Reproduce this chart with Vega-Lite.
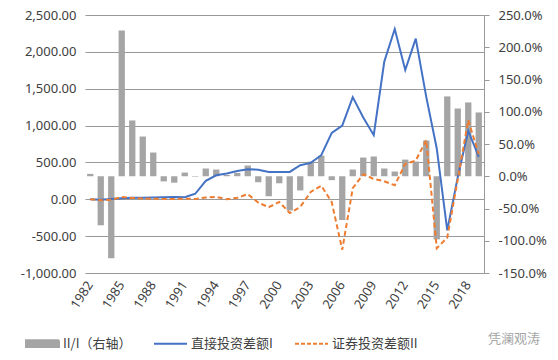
{
  "$schema": "https://vega.github.io/schema/vega-lite/v6.json",
  "width": 399,
  "height": 258,
  "autosize": {"type": "none"},
  "padding": {"left": 85, "top": 15, "right": 74, "bottom": 87},
  "background": "white",
  "config": {
    "view": {"stroke": null},
    "locale": {"number": {"decimal": ".", "thousands": ",", "grouping": [3], "currency": ["$", ""], "minus": "-"}},
    "axis": {"labelFont": "Noto Sans", "labelFontSize": 13, "labelColor": "#404040"}
  },
  "title": {
    "text": "凭澜观涛",
    "orient": "bottom",
    "anchor": "end",
    "frame": "group",
    "color": "#a6a6a6",
    "fontSize": 13,
    "font": "Noto Sans CJK SC",
    "fontWeight": "normal",
    "dx": 56,
    "dy": -28,
    "offset": 10
  },
  "data": {
    "values": [
      {"year": 1982, "ratio": 0.037, "fdi": 0, "port": 0},
      {"year": 1983, "ratio": -0.76, "fdi": -5, "port": -14},
      {"year": 1984, "ratio": -1.27, "fdi": 5, "port": -5},
      {"year": 1985, "ratio": 2.26, "fdi": 15, "port": 30},
      {"year": 1986, "ratio": 0.865, "fdi": 20, "port": 18},
      {"year": 1987, "ratio": 0.616, "fdi": 22, "port": 10},
      {"year": 1988, "ratio": 0.368, "fdi": 25, "port": 8},
      {"year": 1989, "ratio": -0.08, "fdi": 28, "port": 5},
      {"year": 1990, "ratio": -0.10, "fdi": 30, "port": 5},
      {"year": 1991, "ratio": 0.057, "fdi": 28, "port": 9},
      {"year": 1992, "ratio": -0.008, "fdi": 75, "port": 5},
      {"year": 1993, "ratio": 0.12, "fdi": 250, "port": 23},
      {"year": 1994, "ratio": 0.104, "fdi": 325, "port": 32},
      {"year": 1995, "ratio": 0.02, "fdi": 349, "port": 0},
      {"year": 1996, "ratio": 0.052, "fdi": 385, "port": 20},
      {"year": 1997, "ratio": 0.166, "fdi": 408, "port": 70},
      {"year": 1998, "ratio": -0.093, "fdi": 402, "port": -45},
      {"year": 1999, "ratio": -0.31, "fdi": 371, "port": -108},
      {"year": 2000, "ratio": -0.109, "fdi": 371, "port": -36},
      {"year": 2001, "ratio": -0.53, "fdi": 371, "port": -186},
      {"year": 2002, "ratio": -0.22, "fdi": 462, "port": -104},
      {"year": 2003, "ratio": 0.228, "fdi": 494, "port": 100},
      {"year": 2004, "ratio": 0.32, "fdi": 598, "port": 185},
      {"year": 2005, "ratio": -0.06, "fdi": 901, "port": -40},
      {"year": 2006, "ratio": -0.68, "fdi": 1001, "port": -684},
      {"year": 2007, "ratio": 0.104, "fdi": 1386, "port": 150},
      {"year": 2008, "ratio": 0.29, "fdi": 1110, "port": 340},
      {"year": 2009, "ratio": 0.306, "fdi": 870, "port": 275},
      {"year": 2010, "ratio": 0.12, "fdi": 1866, "port": 245},
      {"year": 2011, "ratio": 0.073, "fdi": 2310, "port": 190},
      {"year": 2012, "ratio": 0.258, "fdi": 1753, "port": 480},
      {"year": 2013, "ratio": 0.228, "fdi": 2180, "port": 525},
      {"year": 2014, "ratio": 0.554, "fdi": 1390, "port": 802},
      {"year": 2015, "ratio": -0.978, "fdi": 689, "port": -665},
      {"year": 2016, "ratio": 1.238, "fdi": -421, "port": -520},
      {"year": 2017, "ratio": 1.05, "fdi": 300, "port": 270},
      {"year": 2018, "ratio": 1.144, "fdi": 930, "port": 1073},
      {"year": 2019, "ratio": 0.989, "fdi": 575, "port": 610}
    ]
  },
  "encoding": {
    "x": {
      "field": "year",
      "type": "ordinal",
      "scale": {"paddingInner": 0.4, "paddingOuter": 0.2},
      "axis": {
        "title": null,
        "labelAngle": -57,
        "ticks": false,
        "domain": false,
        "grid": false,
        "labelPadding": 9,
        "values": [1982, 1985, 1988, 1991, 1994, 1997, 2000, 2003, 2006, 2009, 2012, 2015, 2018]
      }
    }
  },
  "layer": [
    {
      "mark": {"type": "bar"},
      "encoding": {
        "y": {
          "field": "ratio",
          "type": "quantitative",
          "scale": {"domain": [-1.5, 2.5], "nice": false},
          "axis": {
            "orient": "right",
            "title": null,
            "values": [-1.5, -1, -0.5, 0, 0.5, 1, 1.5, 2, 2.5],
            "format": ".1%",
            "labelOverlap": false,
            "grid": false,
            "domain": true,
            "domainColor": "#999999",
            "ticks": true,
            "tickColor": "#999999",
            "tickSize": 5,
            "labelPadding": 9
          }
        },
        "color": {
          "datum": "II/I（右轴）",
          "type": "nominal",
          "scale": {
            "domain": ["II/I（右轴）", "直接投资差额I", "证券投资差额II"],
            "range": ["#A5A5A5", "#4472C4", "#ED7D31"]
          },
          "legend": {
            "orient": "none",
            "legendX": -60,
            "legendY": 311,
            "direction": "horizontal",
            "title": null,
            "padding": 0,
            "symbolSize": 1089,
            "symbolStrokeWidth": 2,
            "labelFont": "Noto Sans CJK SC",
            "labelFontSize": 13,
            "labelColor": "#404040",
            "labelOffset": 3,
            "columnPadding": 18,
            "encode": {
              "symbols": {
                "update": {
                  "shape": {"signal": "datum.value === 'II/I（右轴）' ? 'M-1,-0.2H1V0.2H-1Z' : 'stroke'"},
                  "fill": {"signal": "datum.value === 'II/I（右轴）' ? '#A5A5A5' : 'transparent'"},
                  "stroke": {"signal": "datum.value === 'II/I（右轴）' ? 'transparent' : (datum.value === '直接投资差额I' ? '#4472C4' : '#ED7D31')"},
                  "strokeDash": {"signal": "datum.value === '证券投资差额II' ? [4, 2] : [1, 0]"},
                  "strokeWidth": {"value": 2},
                  "opacity": {"value": 1}
                }
              }
            }
          }
        }
      }
    },
    {
      "layer": [
        {
          "mark": {"type": "line", "interpolate": "linear", "strokeWidth": 2},
          "encoding": {
            "y": {
              "field": "fdi",
              "type": "quantitative",
              "scale": {"domain": [-1000, 2500], "nice": false},
              "axis": {
                "orient": "left",
                "title": null,
                "values": [-1000, -500, 0, 500, 1000, 1500, 2000, 2500],
                "format": ",.2f",
                "labelOverlap": false,
                "grid": true,
                "gridColor": "#999999",
                "gridWidth": 1,
                "domain": false,
                "ticks": false,
                "labelPadding": 9
              }
            },
            "color": {"datum": "直接投资差额I", "type": "nominal"}
          }
        },
        {
          "mark": {"type": "line", "interpolate": "linear", "strokeWidth": 2, "strokeDash": [5, 3]},
          "encoding": {
            "y": {
              "field": "port",
              "type": "quantitative",
              "scale": {"domain": [-1000, 2500], "nice": false},
              "axis": {
                "orient": "left",
                "title": null,
                "values": [-1000, -500, 0, 500, 1000, 1500, 2000, 2500],
                "format": ",.2f",
                "labelOverlap": false,
                "grid": true,
                "gridColor": "#999999",
                "gridWidth": 1,
                "domain": false,
                "ticks": false,
                "labelPadding": 9
              }
            },
            "color": {"datum": "证券投资差额II", "type": "nominal"}
          }
        }
      ]
    }
  ],
  "resolve": {"scale": {"y": "independent"}}
}
